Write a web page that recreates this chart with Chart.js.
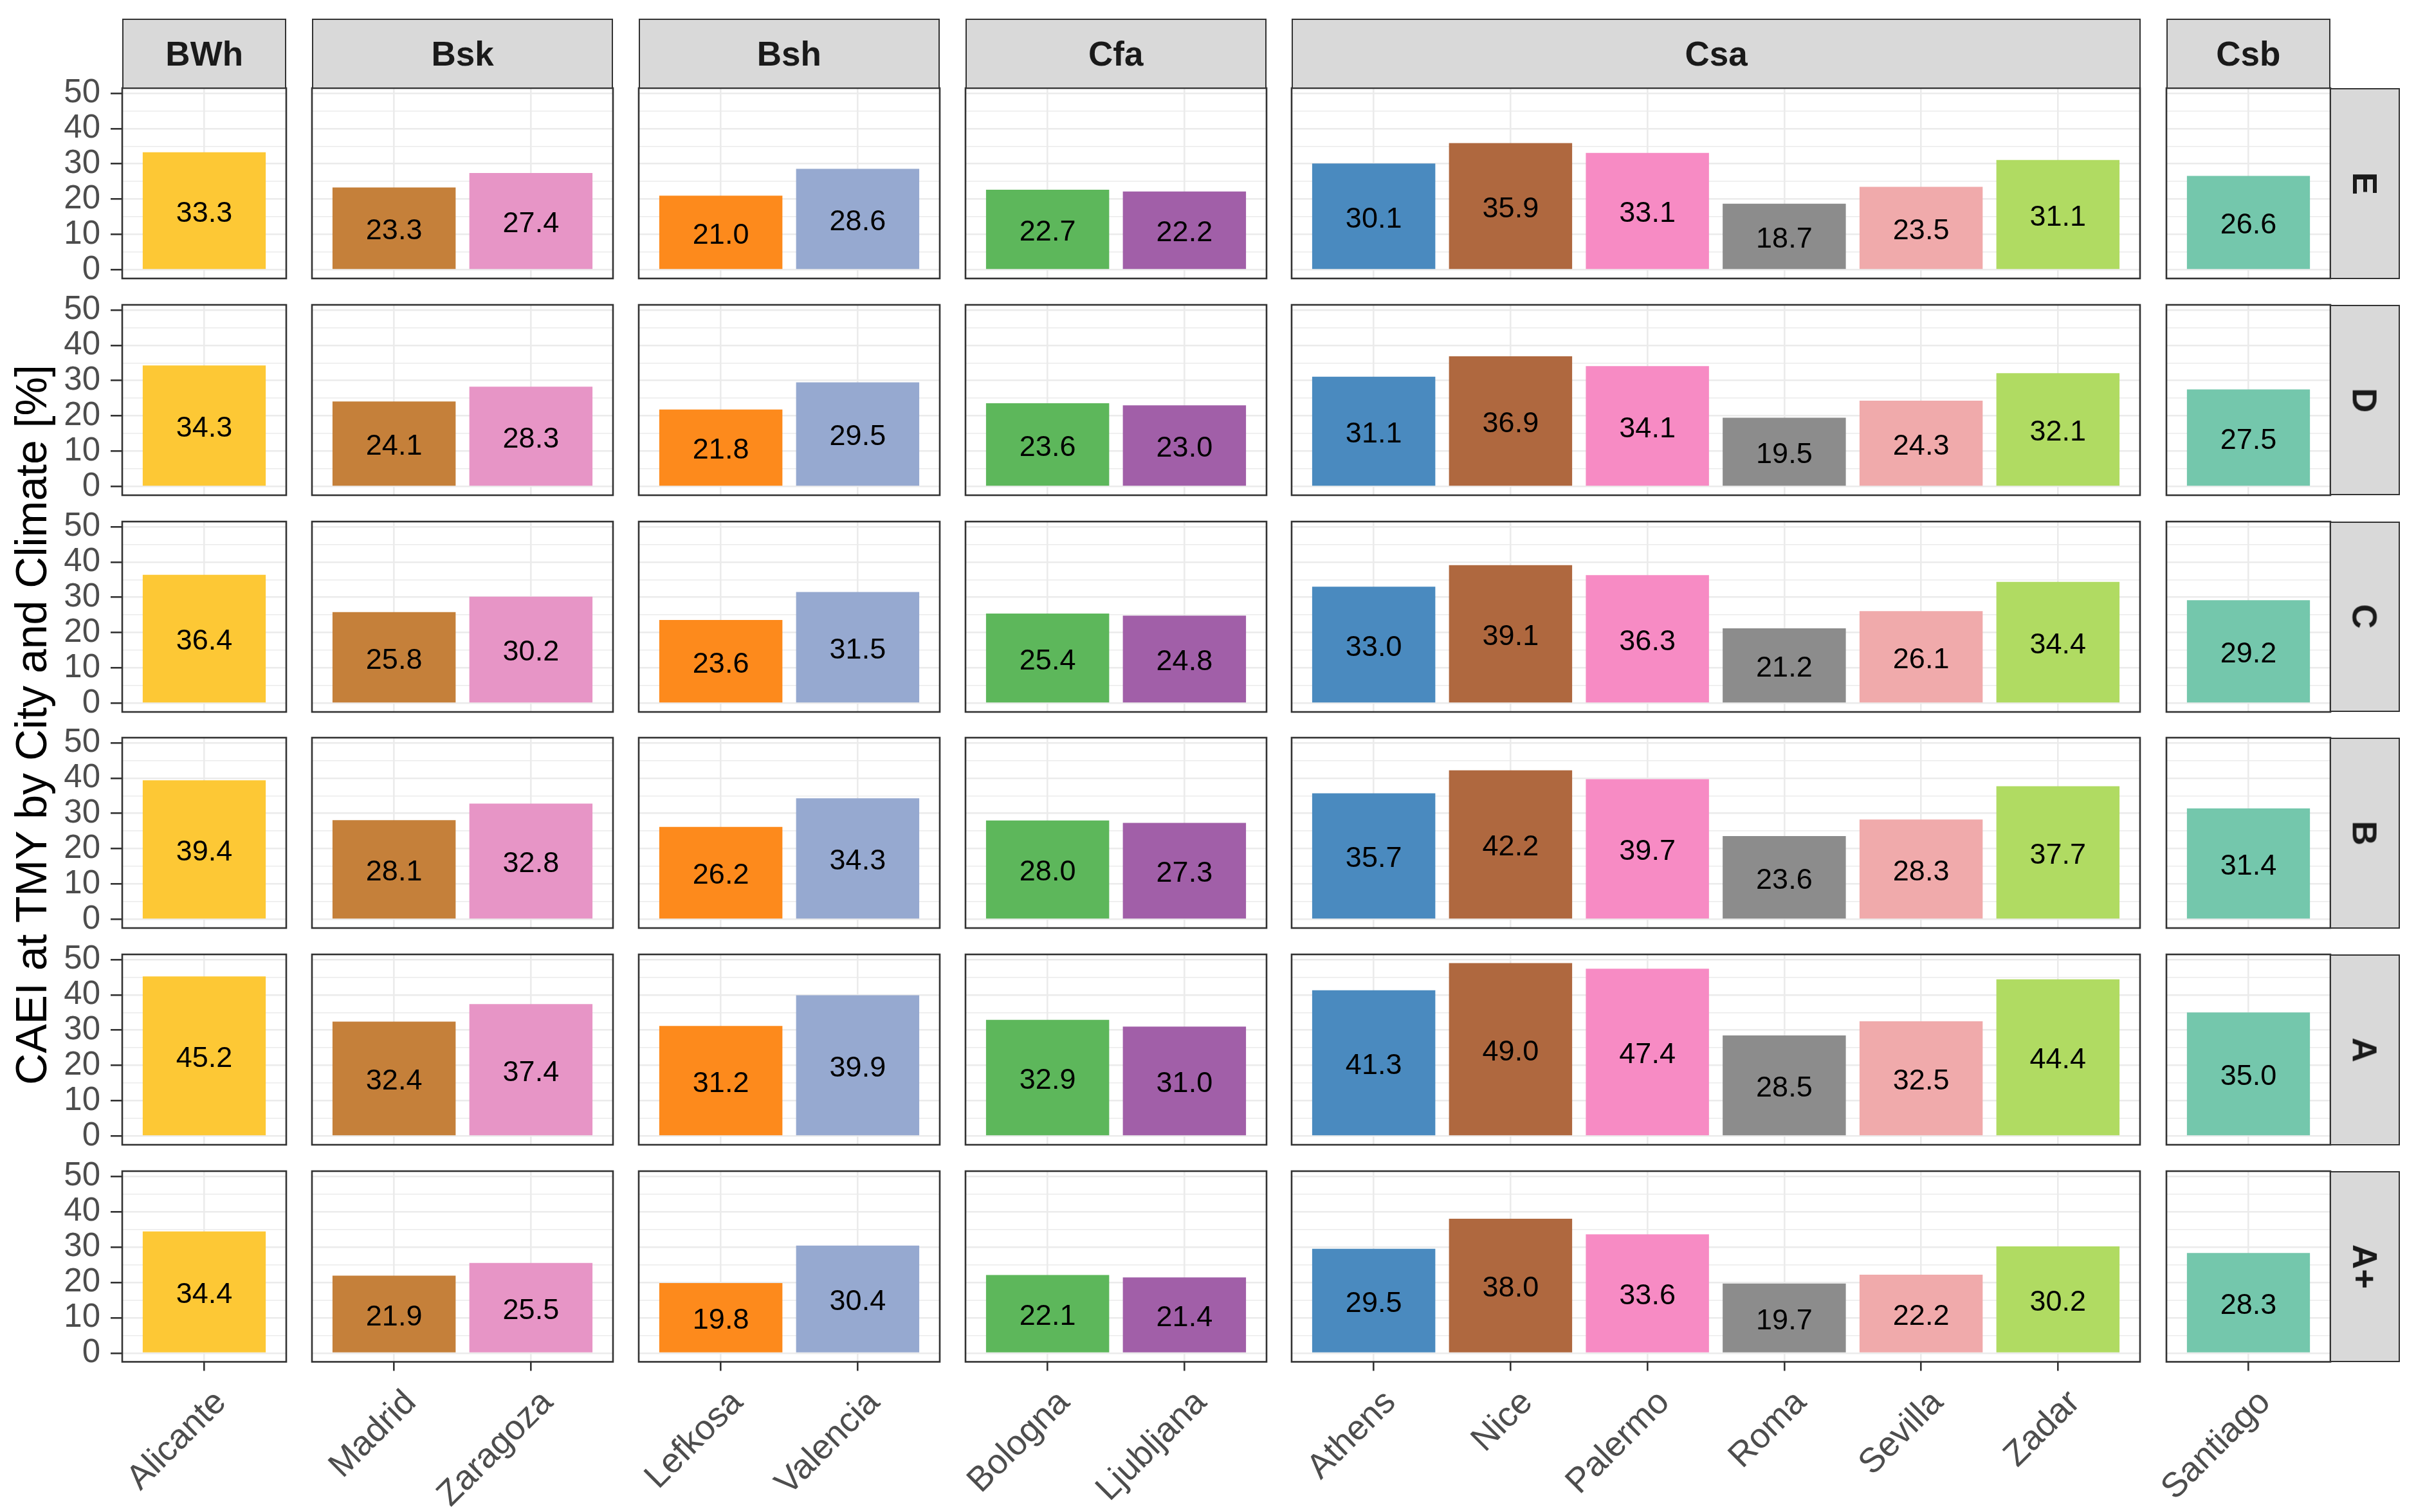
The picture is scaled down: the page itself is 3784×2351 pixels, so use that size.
<!DOCTYPE html>
<html>
<head>
<meta charset="utf-8">
<script src="https://cdn.jsdelivr.net/npm/chart.js@4.4.0/dist/chart.umd.min.js"></script>
<style>
  body { margin: 0; background: #fff; width: 3784px; height: 2351px; position: relative; overflow: hidden;
         font-family: "Liberation Sans", Arial, sans-serif; }
  canvas { position: absolute; }
  .strip { position: absolute; background: #D9D9D9; border: 2.6px solid #333; box-sizing: border-box;
           display: flex; align-items: center; justify-content: center;
           font-weight: bold; font-size: 53px; color: #1A1A1A; }
  .strip.side span { display: inline-block; transform: rotate(90deg); white-space: nowrap; }
  #ytitle { position: absolute; left: 48px; top: 1127px; transform: translate(-50%, -50%) rotate(-90deg);
            font-size: 68px; color: #000; white-space: nowrap; }
</style>
</head>
<body>
<div id="ytitle">CAEI at TMY by City and Climate [%]</div>
<script>
// data
const climates = ['BWh', 'Bsk', 'Bsh', 'Cfa', 'Csa', 'Csb'];
const cities = ['Alicante', 'Madrid', 'Zaragoza', 'Lefkosa', 'Valencia', 'Bologna', 'Ljubljana',
                'Athens', 'Nice', 'Palermo', 'Roma', 'Sevilla', 'Zadar', 'Santiago'];
const cityClimate = ['BWh', 'Bsk', 'Bsk', 'Bsh', 'Bsh', 'Cfa', 'Cfa',
                     'Csa', 'Csa', 'Csa', 'Csa', 'Csa', 'Csa', 'Csb'];
const classes = ['E', 'D', 'C', 'B', 'A', 'A+'];

const caeiE  = [33.3, 23.3, 27.4, 21.0, 28.6, 22.7, 22.2, 30.1, 35.9, 33.1, 18.7, 23.5, 31.1, 26.6];
const caeiD  = [34.3, 24.1, 28.3, 21.8, 29.5, 23.6, 23.0, 31.1, 36.9, 34.1, 19.5, 24.3, 32.1, 27.5];
const caeiC  = [36.4, 25.8, 30.2, 23.6, 31.5, 25.4, 24.8, 33.0, 39.1, 36.3, 21.2, 26.1, 34.4, 29.2];
const caeiB  = [39.4, 28.1, 32.8, 26.2, 34.3, 28.0, 27.3, 35.7, 42.2, 39.7, 23.6, 28.3, 37.7, 31.4];
const caeiA  = [45.2, 32.4, 37.4, 31.2, 39.9, 32.9, 31.0, 41.3, 49.0, 47.4, 28.5, 32.5, 44.4, 35.0];
const caeiAp = [34.4, 21.9, 25.5, 19.8, 30.4, 22.1, 21.4, 29.5, 38.0, 33.6, 19.7, 22.2, 30.2, 28.3];
const caeiByClass = [caeiE, caeiD, caeiC, caeiB, caeiA, caeiAp];

const cityColors = ['#FDC835', '#C5803A', '#E795C6', '#FD8A1C', '#96A9D0', '#5DB75B', '#A15FA8',
                    '#4A8ABF', '#AF683F', '#F78BC4', '#8C8C8C', '#F0AAAB', '#B0DB62', '#74C7AC'];
const yTicks = [0, 10, 20, 30, 40, 50];

// layout
const W = 3784, H = 2351;
const PLOT_LEFT = 190, PLOT_RIGHT = 3623, GAP = 39.5;
const ROW_TOP = 137, ROW_H = 296.5, ROW_PITCH = 336.8;
const STRIP_TOP = 29, STRIP_W = 108;
const M = 20, Y_AXIS_W = 130;
const EXPAND = 0.6;
const Y_MIN = -2.45, Y_MAX = 51.45;
const FONT = '"Liberation Sans", Arial, sans-serif';

Chart.defaults.font.family = FONT;

const counts = climates.map(c => cityClimate.filter(k => k === c).length);
const totalUnits = counts.reduce((s, n) => s + n - 1 + 2 * EXPAND, 0);
const unit = (PLOT_RIGHT - PLOT_LEFT - GAP * (climates.length - 1)) / totalUnits;
const panelLeft = [], panelW = [];
let xPos = PLOT_LEFT;
counts.forEach(n => {
  panelLeft.push(xPos);
  panelW.push((n - 1 + 2 * EXPAND) * unit);
  xPos += (n - 1 + 2 * EXPAND) * unit + GAP;
});

const panelPlugin = {
  id: 'panel',
  afterDatasetsDraw(chart) {
    const ctx = chart.ctx, y = chart.scales.y;
    const meta = chart.getDatasetMeta(0);
    const pts = chart.data.datasets[0].data;
    ctx.save();
    ctx.font = '45px ' + FONT;
    ctx.fillStyle = '#000';
    ctx.textAlign = 'center';
    ctx.textBaseline = 'middle';
    meta.data.forEach((bar, i) => {
      const v = pts[i].y;
      ctx.fillText(v.toFixed(1), bar.x, y.getPixelForValue(v / 2 - 0.8));
    });
    ctx.restore();
  },
  afterDraw(chart) {
    const a = chart.chartArea, ctx = chart.ctx;
    ctx.save();
    ctx.strokeStyle = '#333333';
    ctx.lineWidth = 2.6;
    ctx.strokeRect(a.left, a.top, a.right - a.left, a.bottom - a.top);
    ctx.restore();
  }
};

function addStrip(x, y, w, h, text, side) {
  const d = document.createElement('div');
  d.className = 'strip' + (side ? ' side' : '');
  Object.assign(d.style, { left: x + 'px', top: y + 'px', width: w + 'px', height: h + 'px' });
  const s = document.createElement('span');
  s.textContent = text;
  d.appendChild(s);
  document.body.appendChild(d);
}

function makePanel(row, col) {
  const idx = cities.map((c, i) => i).filter(i => cityClimate[i] === climates[col]);
  const n = idx.length;
  const vals = caeiByClass[row];
  const left = panelLeft[col], w = panelW[col];
  const top = ROW_TOP + row * ROW_PITCH, h = ROW_H;
  const isLeft = col === 0, isBottom = row === classes.length - 1;

  const cx = isLeft ? left - Y_AXIS_W : left - M;
  const cy = top - M;
  const cw = left + w + M - cx;
  const ch = isBottom ? H - cy : h + 2 * M;
  const canvas = document.createElement('canvas');
  canvas.width = cw; canvas.height = ch;
  canvas.style.left = cx + 'px'; canvas.style.top = cy + 'px';
  document.body.appendChild(canvas);

  new Chart(canvas, {
    type: 'bar',
    data: {
      datasets: [{
        data: idx.map((i, k) => ({ x: k, y: vals[i] })),
        backgroundColor: idx.map(i => cityColors[i]),
        borderWidth: 0,
        categoryPercentage: 1,
        barPercentage: n === 1 ? 0.9 / (2 * EXPAND) : 0.9
      }]
    },
    options: {
      responsive: false, animation: false, devicePixelRatio: 1,
      layout: { padding: { top: M, right: M, left: isLeft ? 0 : M, bottom: isBottom ? 0 : M } },
      plugins: { legend: { display: false }, tooltip: { enabled: false } },
      scales: {
        x: {
          type: 'linear', min: -EXPAND, max: n - 1 + EXPAND, offset: false,
          border: { display: false },
          grid: { offset: false, color: '#EBEBEB', lineWidth: 2.6, drawTicks: isBottom, tickLength: 14, tickWidth: 2.6, tickColor: '#333333' },
          ticks: {
            display: isBottom, stepSize: 1, autoSkip: false, includeBounds: false,
            minRotation: 45, maxRotation: 45, labelOffset: 26, padding: 18,
            color: '#4D4D4D', font: { size: 54 },
            callback: v => cities[idx[v]] || ''
          },
          afterFit: s => {
            s.height = isBottom ? H - (top + h) : 0;
            s.paddingLeft = 0; s.paddingRight = 0;
          }
        },
        y: {
          min: Y_MIN, max: Y_MAX,
          border: { display: false },
          grid: {
            color: '#EBEBEB',
            lineWidth: c => yTicks.includes(c.tick.value) ? 2.6 : 1.6,
            drawTicks: isLeft, tickLength: 18, tickWidth: 2.6,
            tickColor: c => yTicks.includes(c.tick.value) ? '#333333' : 'rgba(0,0,0,0)'
          },
          ticks: {
            display: isLeft, stepSize: 5, autoSkip: false, includeBounds: false, padding: 16,
            color: '#4D4D4D', font: { size: 51 },
            callback: v => yTicks.includes(v) ? String(v) : ''
          },
          afterFit: s => {
            s.width = isLeft ? Y_AXIS_W : 0;
            s.paddingTop = 0; s.paddingBottom = 0;
          }
        }
      }
    },
    plugins: [panelPlugin]
  });
}

for (let r = 0; r < classes.length; r++) {
  for (let c = 0; c < climates.length; c++) makePanel(r, c);
}
climates.forEach((name, c) => addStrip(panelLeft[c], STRIP_TOP, panelW[c], ROW_TOP - STRIP_TOP + 1.3, name, false));
const lastCol = climates.length - 1;
classes.forEach((name, r) => addStrip(panelLeft[lastCol] + panelW[lastCol] - 1.3, ROW_TOP + r * ROW_PITCH, STRIP_W + 1.3, ROW_H, name, true));
</script>
</body>
</html>
